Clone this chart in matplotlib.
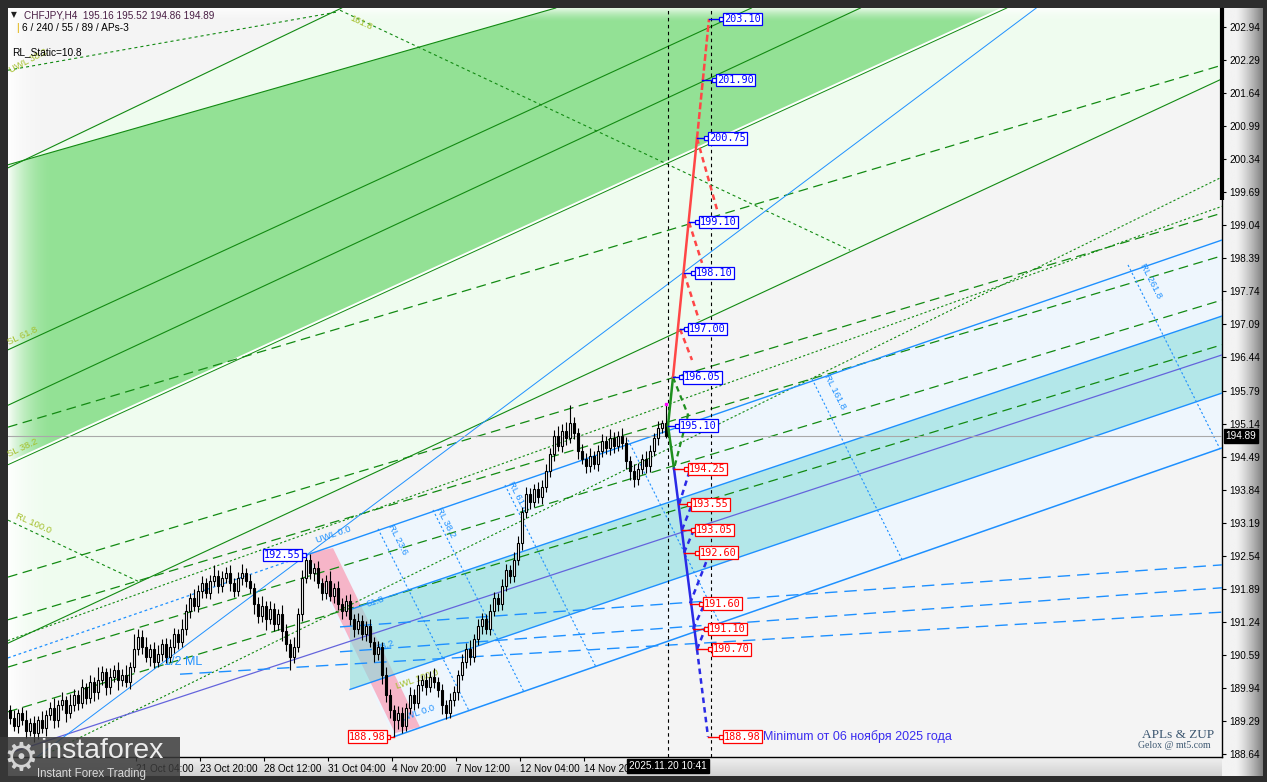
import numpy as np
import matplotlib
matplotlib.use("Agg")
import matplotlib.pyplot as plt
from matplotlib.patches import Polygon, Rectangle
import matplotlib.transforms as mtransforms

plt.rcParams['lines.scale_dashes'] = False
plt.rcParams['font.family'] = ['Liberation Sans', 'DejaVu Sans']

# ------------------------------------------------------------------ DATA
header_line1 = "CHFJPY,H4  195.16 195.52 194.86 194.89"
header_line2 = "6 / 240 / 55 / 89 / APs-3"
header_line3 = "RL_Static=10.8"

first_open = 189.50
closes = [
 189.35,189.20,189.45,189.30,189.10,189.25,189.05,189.30,189.15,189.40,
 189.55,189.30,189.60,189.70,189.45,189.60,189.80,189.65,189.95,189.75,
 190.05,189.85,190.10,190.25,189.95,190.15,190.30,190.10,190.20,190.05,
 190.35,190.70,190.95,190.75,190.55,190.70,190.45,190.60,190.80,190.55,
 190.75,191.00,190.85,191.10,191.45,191.70,191.55,191.85,192.00,191.80,
 192.05,192.15,191.95,192.10,192.20,192.00,191.85,192.10,192.20,192.05,
 191.90,191.60,191.35,191.55,191.30,191.50,191.20,191.40,191.05,190.80,
 190.55,190.75,191.40,192.10,192.45,192.20,192.30,192.00,191.80,192.05,
 191.75,191.90,191.60,191.45,191.65,191.30,191.10,191.25,191.00,191.15,
 190.85,190.60,190.75,190.20,189.80,189.50,189.30,189.45,189.20,189.55,
 189.80,189.65,190.00,190.10,189.95,190.15,190.05,189.90,189.60,189.45,
 189.70,189.85,190.20,190.45,190.70,190.55,190.90,191.15,191.30,191.10,
 191.45,191.70,191.60,191.95,192.25,192.15,192.45,192.80,193.40,193.75,
 193.60,193.85,193.70,193.90,194.20,194.55,194.90,194.70,195.00,194.85,
 195.15,194.95,194.60,194.45,194.30,194.50,194.35,194.60,194.80,194.65,
 194.85,194.70,194.90,194.75,194.40,194.20,194.05,194.25,194.45,194.30,
 194.60,194.85,195.05,195.15,194.89]
wick_up = [
 .10,.15,.08,.12,.20,.10,.14,.09,.18,.11,
 .12,.20,.10,.15,.08,.22,.12,.10,.16,.09,
 .14,.10,.25,.12,.08,.18,.10,.14,.12,.20,
 .10,.30,.15,.12,.20,.10,.14,.18,.10,.12,
 .16,.12,.10,.20,.14,.10,.18,.12,.15,.10,
 .12,.20,.10,.14,.12,.16,.10,.12,.18,.10,
 .14,.10,.12,.20,.10,.15,.12,.10,.18,.14,
 .10,.20,.12,.15,.10,.12,.10,.14,.10,.12,
 .18,.10,.15,.10,.12,.14,.10,.16,.12,.10,
 .14,.10,.12,.10,.15,.12,.10,.14,.12,.10,
 .16,.12,.20,.10,.14,.12,.18,.10,.12,.10,
 .14,.12,.10,.15,.12,.18,.10,.14,.12,.10,
 .15,.12,.10,.14,.12,.10,.16,.12,.10,.14,
 .12,.10,.15,.12,.14,.10,.12,.20,.14,.18,
 .35,.12,.10,.14,.12,.16,.10,.12,.14,.10,
 .18,.12,.10,.15,.12,.10,.14,.12,.10,.15,
 .12,.10,.14,.06,.36]
wick_dn = [
 .12,.10,.15,.08,.14,.10,.18,.12,.10,.15,
 .10,.14,.12,.10,.18,.10,.12,.15,.10,.12,
 .10,.16,.12,.10,.14,.12,.10,.20,.12,.10,
 .14,.10,.12,.15,.10,.18,.12,.10,.14,.12,
 .10,.12,.15,.10,.12,.14,.10,.12,.15,.10,
 .12,.10,.14,.12,.10,.15,.12,.10,.14,.12,
 .10,.20,.14,.12,.22,.10,.15,.12,.18,.14,
 .25,.12,.10,.14,.10,.12,.15,.10,.14,.12,
 .10,.14,.12,.16,.10,.12,.15,.10,.12,.14,
 .10,.15,.12,.18,.14,.16,.32,.16,.15,.10,
 .12,.14,.10,.12,.15,.10,.12,.14,.18,.12,
 .10,.12,.14,.10,.12,.15,.10,.12,.14,.10,
 .12,.10,.14,.12,.10,.15,.12,.10,.14,.12,
 .15,.10,.12,.14,.10,.12,.15,.10,.12,.14,
 .10,.12,.15,.10,.14,.12,.10,.15,.12,.10,
 .12,.14,.10,.12,.15,.18,.16,.12,.10,.14,
 .12,.10,.14,.10,.03]

ytick_vals = [202.94,202.29,201.64,200.99,200.34,199.69,199.04,198.39,197.74,
              197.09,196.44,195.79,195.14,194.49,193.84,193.19,192.54,191.89,
              191.24,190.59,189.94,189.29,188.64]
xtick_pos = [31.5,47.5,63.5,79.5,95.5,111.5,127.5,143.5]
xtick_lbl = ['21 Oct 04:00','23 Oct 20:00','28 Oct 12:00','31 Oct 04:00',
             '4 Nov 20:00','7 Nov 12:00','12 Nov 04:00','14 Nov 20:00']
last_price = 194.89
last_high = 195.52
now_bar = 164.5
proj_bar = 175.25
now_label = "2025.11.20 10:41"

# green pitchfork (bar1, price1, bar2, price2)
g_upper = (-0.5, 200.17, 81.75, 203.27)
g_band_top = (-0.5, 200.23, 136.25, 203.31)
g_sl618 = (-0.5, 196.59, 185.25, 203.31)
g_mid   = (-0.5, 195.50, 212.5, 203.31)
g_sl382 = (-0.5, 194.36, 248.25, 203.31)
g_lower = (-0.5, 190.82, 303.0, 201.92)
g_dash  = [(-0.5,195.07,303,202.19), (-0.5,192.12,303,199.28), (-0.5,191.28,303,198.44),
           (-0.5,190.35,303,197.57), (-0.5,189.47,303,196.69)]
g_dot_seg = [(-0.5,202.09,81.75,203.235), (82.5,203.27,210,198.55), (-0.5,193.24,32.5,192.02)]
g_dot_ray = [(229.75,197.16,302,199.95), (97.5,193.63,167.5,195.60)]

# blue pitchfork
b_pivot = (74, 192.55)
b_low_pivot = (96, 188.98)
b_upper = (-0.5, 190.53, 303, 198.75)
b_lower = (96, 188.98, 303, 194.66)
b_median = (10, 188.92, 303, 196.49)
b_band_hi = (85, 191.48, 303, 197.255)
b_band_lo = (85, 189.91, 303, 195.74)
b_steep = (12.5, 188.92, 256.5, 203.31)
b_dash = [(82.5,191.14,303,192.36), (82.5,190.65,303,191.91), (42.5,190.21,303,191.43)]
b_react = [(92,193.07,114.75,189.49), (105.75,193.44,128.5,189.86), (123.75,193.93,146.5,190.35),
           (154.5,194.82,177.5,191.20), (200.5,196.02,223.1,192.45), (279.5,198.26,302.5,194.64)]
pink_zone = [(74.5,192.59), (80.75,192.69), (102.5,189.17), (96.25,189.05)]

# ZUP projection levels
start_node = (164.5, 195.10)
up_levels = [196.05, 197.00, 198.10, 199.10, 200.75, 201.90, 203.10]
up_node_bar = [165.75, 167.5, 168.5, 169.75, 171.75, 173.0, 174.75]
up_label_bar = [168.25, 169.5, 171.25, 172.25, 174.5, 176.5, 178.25]
up_branch = [(1,170.5,196.39), (2,172.25,197.18), (3,173.0,198.30), (4,177.0,199.28)]
dn_levels = [194.25, 193.55, 193.05, 192.60, 191.60, 191.10, 190.70, 188.98]
dn_node_bar = [166.0, 167.25, 168.0, 168.5, 170.0, 170.75, 171.75, 174.5]
dn_label_bar = [169.5, 170.25, 171.25, 172.25, 173.25, 174.5, 175.5, 178.25]
dn_branch = [(1,170.0,194.23), (2,170.75,193.60), (3,171.25,193.10),
             (4,174.25,192.46), (5,173.75,191.61), (6,174.0,191.14)]
green_tip = (169.5, 195.31)
min_text = "Minimum от 06 ноября 2025 года"

# ------------------------------------------------------------------ FIGURE
W, H = 1267, 782
fig = plt.figure(figsize=(W/100, H/100), dpi=100)
fig.patch.set_facecolor('#2c2c2c')

ax_r = fig.add_axes([1222/W, 6/H, 41/W, 768/H], zorder=0)
grad = np.linspace(0, 1, 64)
gcol = np.clip(0.95 - 0.45*np.clip((grad-0.35)/0.65, 0, 1)**1.3, 0, 1)
ax_r.imshow(np.tile(gcol, (8, 1)), cmap='gray', vmin=0, vmax=1, aspect='auto', extent=[0, 1, 0, 1])
ax_r.axis('off')
ax_b = fig.add_axes([8/W, 6/H, 1214/W, 19/H], zorder=0)
vg = np.linspace(0.94, 0.82, 20)[:, None]
ax_b.imshow(np.tile(vg, (1, 4)), cmap='gray', vmin=0, vmax=1, aspect='auto', extent=[0, 1, 0, 1])
ax_b.axis('off')

ax = fig.add_axes([8/W, 25/H, 1214/W, 749/H], zorder=2)
ax.set_facecolor('#f4f4f4')
X0, X1 = -0.5, 303.0
Y0, Y1 = 188.581, 203.314

def line_at(l, x):
    x1, y1, x2, y2 = l
    return y1 + (y2 - y1) * (x - x1) / (x2 - x1)

def band(lt, lb, xa, xb, **kw):
    poly = [(xa, line_at(lt, xa)), (xb, line_at(lt, xb)), (xb, line_at(lb, xb)), (xa, line_at(lb, xa))]
    ax.add_patch(Polygon(poly, closed=True, **kw))

def seg(l, **kw):
    ax.plot([l[0], l[2]], [l[1], l[3]], **kw)

def ray(l, **kw):
    ax.axline((l[0], l[1]), (l[2], l[3]), **kw)

GREEN = '#128a12'
BLUE = '#1e90ff'
LONG = (7, 4)
DOT = (1.6, 1.6)

# fills
band(g_upper, g_lower, X0, X1, facecolor='#effcef', edgecolor='none', zorder=1)
band(g_band_top, g_sl382, X0, X1, facecolor='#93e195', edgecolor='none', zorder=1.1)
ax.add_patch(Polygon([b_pivot, (303, line_at(b_upper, 303)), (303, line_at(b_lower, 303)), b_low_pivot],
                     closed=True, facecolor='#eef6fd', edgecolor='none', zorder=1.2))
ax.add_patch(Polygon(pink_zone, closed=True, facecolor='#f6b5c8', edgecolor='none', zorder=1.3))
band(b_band_hi, b_band_lo, 85, X1, facecolor='#8cdedd', alpha=0.6, edgecolor='none', zorder=1.4)

fade = np.zeros((2, 60, 4)); fade[..., :3] = 1.0
fade[..., 3] = 0.92 * (1 - np.linspace(0, 1, 60))**2
ax.imshow(fade, extent=[X0, X0 + 12, Y0, Y1], aspect='auto', zorder=1.6, interpolation='bilinear')
tfade = np.zeros((30, 2, 4)); tfade[..., :3] = 1.0
tfade[..., 3] = (0.85 * (1 - np.linspace(0, 1, 30))**1.5)[:, None]
ax.imshow(tfade, extent=[X0, X1, Y1 - 0.28, Y1], aspect='auto', zorder=1.6, interpolation='bilinear')

# green fork lines
for l in (g_upper, g_band_top, g_sl618, g_mid, g_lower):
    ray(l, color=GREEN, lw=0.8, zorder=3)
ray(g_sl382, color='white', lw=1.6, zorder=3)
ray((g_sl382[0], g_sl382[1]-0.03, g_sl382[2], g_sl382[3]-0.03), color=GREEN, lw=0.7, zorder=3)
for l in g_dash:
    ray(l, color=GREEN, lw=0.9, dashes=LONG, zorder=3)
for l in g_dot_seg:
    seg(l, color=GREEN, lw=0.8, dashes=(2.2, 2.2), zorder=3)
for l in g_dot_ray:
    ray(l, color=GREEN, lw=0.8, dashes=DOT, zorder=3)

# blue fork lines
seg((b_upper[0], b_upper[1], b_pivot[0], b_pivot[1]), color=BLUE, lw=0.9, dashes=(2, 2), zorder=3)
seg((b_pivot[0], b_pivot[1], 303, line_at(b_upper, 303)), color=BLUE, lw=1.0, zorder=3)
seg(b_lower, color=BLUE, lw=1.1, zorder=3)
ray(b_median, color='#6464dc', lw=0.9, zorder=3)
seg(b_band_hi, color=BLUE, lw=1.0, zorder=3)
seg(b_band_lo, color=BLUE, lw=1.0, zorder=3)
ray(b_steep, color=BLUE, lw=0.7, zorder=3)
for l in b_dash:
    seg(l, color=BLUE, lw=1.0, dashes=(9, 5), zorder=3)
for l in b_react:
    seg(l, color=BLUE, lw=0.8, dashes=DOT, zorder=3)

ax.axhline(last_price, color='#a9a9a9', lw=0.8, zorder=3.5)

# candles
opens = [first_open] + closes[:-1]
for i, (o, c) in enumerate(zip(opens, closes)):
    hi = max(o, c) + wick_up[i]
    lo = min(o, c) - wick_dn[i]
    ax.plot([i, i], [lo, hi], color='black', lw=0.8, zorder=6, solid_capstyle='butt')
    bot = min(o, c)
    h = max(abs(c - o), 0.012)
    ax.add_patch(Rectangle((i - 0.34, bot), 0.68, h, facecolor='white' if c >= o else 'black',
                           edgecolor='black', lw=0.8, zorder=7))
ax.plot([len(closes) - 1], [last_high], marker='s', ms=2, color='magenta', zorder=8)

for xb in (now_bar, proj_bar):
    ax.axvline(xb, color='black', lw=0.8, dashes=(2.5, 2.5), zorder=4)

# ZUP projection
RED = '#ff4646'
DBLUE = '#2a2ae6'
ZG = '#1f8f1f'
up_pts = [(b, p) for b, p in zip(up_node_bar, up_levels)]
ax.plot([start_node[0], up_pts[0][0]], [start_node[1], up_pts[0][1]], color=ZG, lw=1.8, zorder=8)
ax.plot([start_node[0], dn_node_bar[0]], [start_node[1], dn_levels[0]], color=ZG, lw=1.8, zorder=8)
ax.plot([up_pts[0][0], green_tip[0], dn_node_bar[0]], [up_pts[0][1], green_tip[1], dn_levels[0]],
        color=ZG, lw=1.6, dashes=(4, 3), zorder=8)
ax.plot([up_pts[0][0], up_pts[4][0]], [up_pts[0][1], up_pts[4][1]], color=RED, lw=1.8, zorder=8)
ax.plot([up_pts[4][0], up_pts[6][0]], [up_pts[4][1], up_pts[6][1]], color=RED, lw=1.8, dashes=(5, 2), zorder=8)
for k, bx, py in up_branch:
    ax.plot([up_node_bar[k], bx], [up_levels[k], py], color=RED, lw=1.8, dashes=(4, 3), zorder=8)
ax.plot([dn_node_bar[0], dn_node_bar[6]], [dn_levels[0], dn_levels[6]], color=DBLUE, lw=1.8, zorder=8)
ax.plot([dn_node_bar[6], dn_node_bar[7]], [dn_levels[6], dn_levels[7]], color=DBLUE, lw=1.8, dashes=(4, 3), zorder=8)
for k, bx, py in dn_branch:
    ax.plot([dn_node_bar[k], bx], [dn_levels[k], py], color=DBLUE, lw=1.8, dashes=(4, 3), zorder=8)

def level_label(nb, price, lb, col, right_side=True):
    kw = dict(color=col, fontsize=7.4, family='DejaVu Sans Mono', va='center', zorder=10,
              bbox=dict(boxstyle='square,pad=0.12', fc='white', ec=col, lw=0.9))
    if right_side:
        ax.plot([nb, lb - 0.4], [price, price], color=col, lw=1.0, zorder=9)
        ax.plot([lb - 0.4], [price], marker='s', ms=3, mfc='white', mec=col, mew=0.9, zorder=9)
        ax.text(lb + 0.3, price, f"{price:.2f}", ha='left', **kw)
    else:
        ax.plot([lb + 0.4, nb], [price, price], color=col, lw=1.0, zorder=9)
        ax.plot([lb + 0.4], [price], marker='s', ms=3, mfc='white', mec=col, mew=0.9, zorder=9)
        ax.text(lb - 0.3, price, f"{price:.2f}", ha='right', **kw)

for nb, p, lb in zip(up_node_bar, up_levels, up_label_bar):
    level_label(nb, p, lb, '#0000ff')
level_label(start_node[0], start_node[1], 167.25, '#0000ff')
for nb, p, lb in zip(dn_node_bar, dn_levels, dn_label_bar):
    level_label(nb, p, lb, '#ff0000')
level_label(b_pivot[0], b_pivot[1], 73.0, '#0000ff', right_side=False)
level_label(b_low_pivot[0], b_low_pivot[1], 94.2, '#ff0000', right_side=False)
ax.text(188.3, dn_levels[-1], min_text, color='#3a2cf0', fontsize=9, ha='left', va='center', zorder=10)

def flabel(x, y, s, col, rot, fs=6.8):
    ax.text(x, y, s, color=col, fontsize=fs, rotation=rot, rotation_mode='anchor',
            ha='left', va='bottom', zorder=5)
YG = '#a4bf2a'
flabel(0.0, 196.65, 'SL 61.8', YG, 25)
flabel(0.0, 194.45, 'SL 38.2', YG, 25)
flabel(1.0, 193.25, 'RL 100.0', YG, -24)
flabel(84.5, 203.05, '161.8', YG, -25)
flabel(0.5, 202.0, 'UWL 38.2', YG, 28)
flabel(77.0, 192.75, 'UWL 0.0', BLUE, 19)
flabel(89.5, 191.50, '61.8', BLUE, 19)
flabel(92.0, 190.62, '38.2', BLUE, 19)
flabel(97.0, 189.88, 'LWL 100.0', YG, 19)
flabel(98.5, 189.25, 'LWL 0.0', BLUE, 19)
ax.text(38.5, 190.45, '1/2 ML', color=BLUE, fontsize=9, ha='left', va='center', zorder=5)
for (x, y, s) in [(94.0, 193.10, 'RL 23.6'), (106.0, 193.45, 'RL 38.2'), (124.0, 193.95, 'RL 61.8'),
                  (203.0, 196.05, 'RL 161.8'), (282.0, 198.25, 'RL 261.8')]:
    ax.text(x, y, s, color=BLUE, fontsize=6.8, rotation=-63, rotation_mode='anchor',
            ha='left', va='bottom', zorder=5)

ax.set_xlim(X0, X1)
ax.set_ylim(Y0, Y1)
for s in ('top', 'left'):
    ax.spines[s].set_visible(False)
for s in ('right', 'bottom'):
    ax.spines[s].set_color('black'); ax.spines[s].set_linewidth(1.0)
ax.yaxis.tick_right()
ax.set_yticks(ytick_vals)
ax.set_yticklabels([f"{v:.2f}" for v in ytick_vals])
ax.tick_params(axis='y', direction='out', length=3, width=0.8, labelsize=7.2, pad=2, colors='black')
ax.set_xticks(xtick_pos)
ax.set_xticklabels(xtick_lbl, ha='left')
ax.tick_params(axis='x', direction='out', length=3, width=0.8, labelsize=7.2, pad=2)
ax.plot([X1, X1], [199.53, Y1], color='black', lw=3, zorder=12, clip_on=False, solid_capstyle='butt')

tr = mtransforms.blended_transform_factory(ax.transAxes, ax.transData)
ax.text(1.003, last_price, f"{last_price:.2f}", transform=tr, fontsize=7.2, color='white',
        ha='left', va='center', zorder=20, clip_on=False,
        bbox=dict(boxstyle='square,pad=0.18', fc='black', ec='black'))
trx = mtransforms.blended_transform_factory(ax.transData, ax.transAxes)
ax.text(now_bar, -0.0125, now_label, transform=trx, fontsize=7.2, color='white', ha='center', va='center',
        zorder=20, clip_on=False, bbox=dict(boxstyle='square,pad=0.2', fc='black', ec='black'))

def ftext(px, py, s, **kw):
    fig.text(px / W, 1 - py / H, s, **kw)
ftext(11, 15, '▼', fontsize=5.5, color='#202020', va='center', zorder=20, family='DejaVu Sans')
ftext(24, 15, header_line1, fontsize=7.2, color='#4a1f45', va='center', zorder=20)
ftext(16, 28, '|', fontsize=7.5, color='#e0b000', va='center', zorder=20)
ftext(22, 28, header_line2, fontsize=7.3, color='black', va='center', zorder=20)
ftext(12, 52, header_line3, fontsize=7.3, color='black', va='center', zorder=20)
ftext(1142, 735, 'APLs & ZUP', fontsize=9.5, color='#3b5670', family='Liberation Serif', va='center', zorder=20)
ftext(1138, 746, 'Gelox @ mt5.com', fontsize=7, color='#3b5670', family='Liberation Serif', va='center', zorder=20)

fig.add_artist(Rectangle((0, 0), 180 / W, 45 / H, transform=fig.transFigure,
                         facecolor='#3a3a3a', alpha=0.85, edgecolor='none', zorder=30))
ftext(3, 759, '⚙', fontsize=28, color='#d4d4d4', va='center', zorder=31, family='DejaVu Sans')
ftext(40, 751, 'instaforex', fontsize=20.5, color='#ececec', va='center', zorder=31)
ftext(37, 774, 'Instant Forex Trading', fontsize=8.3, color='#d8d8d8', va='center', zorder=31)

fig.savefig('out.png', dpi=100, facecolor=fig.get_facecolor())
